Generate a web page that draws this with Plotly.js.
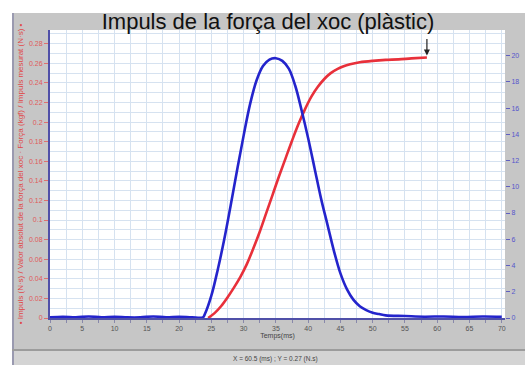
<!DOCTYPE html>
<html>
<head>
<meta charset="utf-8">
<script src="https://cdn.plot.ly/plotly-3.0.1.min.js"></script>
<style>html,body{margin:0;padding:0;background:#fff;}#chart{width:525px;height:365px;}</style>
</head>
<body>
<div id="chart"></div>
<script>
// Force of the impact (right axis)
var forceTime = [0, 2, 4, 6, 8, 10, 12, 14, 16, 18, 20, 22, 23.7, 24, 25, 26, 27, 28, 29, 30, 31, 32, 33, 34, 35, 36, 37, 38, 39, 40, 41, 42, 43, 44, 45, 46, 47, 48, 49, 50, 51, 52, 55, 58, 61, 64, 67, 70];
var forceValues = [0.05, 0.1, 0.05, 0.12, 0.05, 0.1, 0.05, 0.05, 0.12, 0.05, 0.1, 0.05, 0.05, 0.3, 1.7, 3.7, 6.0, 8.6, 11.3, 13.9, 16.3, 18.1, 19.2, 19.7, 19.8, 19.6, 19.0, 17.7, 15.8, 13.7, 11.4, 9.1, 7.1, 5.1, 3.4, 2.2, 1.4, 0.9, 0.6, 0.4, 0.3, 0.2, 0.15, 0.1, 0.12, 0.08, 0.12, 0.1];
// Impulse (left axis)
var impulseTime = [24.5, 25.5, 26.5, 27.5, 28.5, 29.5, 30.5, 31.5, 32.5, 33.5, 34.5, 35.5, 36.5, 37.5, 38.5, 39.5, 40.5, 41.5, 42.5, 43.5, 44.5, 45.5, 46.5, 48, 50, 52, 54, 56, 58.4];
var impulseValues = [0, 0.005, 0.012, 0.021, 0.031, 0.042, 0.055, 0.071, 0.088, 0.107, 0.126, 0.145, 0.163, 0.181, 0.198, 0.213, 0.226, 0.236, 0.244, 0.250, 0.254, 0.257, 0.259, 0.261, 0.2625, 0.2635, 0.264, 0.265, 0.266];

var xTickVals = [0, 5, 10, 15, 20, 25, 30, 35, 40, 45, 50, 55, 60, 65, 70];
var leftTickVals = [0, 0.02, 0.04, 0.06, 0.08, 0.1, 0.12, 0.14, 0.16, 0.18, 0.2, 0.22, 0.24, 0.26, 0.28];
var rightTickVals = [0, 2, 4, 6, 8, 10, 12, 14, 16, 18, 20];

var titleText = 'Impuls de la força del xoc (plàstic)';
var xTitle = 'Temps(ms)';
var leftTitle = '• Impuls (N·s) / Valor absolut de la força del xoc · Força (kgf) / Impuls mesurat (N·s) •';
var statusText = 'X = 60.5 (ms) ; Y = 0.27 (N.s)';

var traces = [
  {x: impulseTime, y: impulseValues, type: 'scatter', mode: 'lines', yaxis: 'y',
   line: {color: '#e8303a', width: 2.6, shape: 'spline', smoothing: 1}, hoverinfo: 'skip'},
  {x: forceTime, y: forceValues, type: 'scatter', mode: 'lines', yaxis: 'y2',
   line: {color: '#2424cc', width: 2.6, shape: 'spline', smoothing: 1}, hoverinfo: 'skip'}
];

var gridColor = '#d6e2f0';
var layout = {
  width: 525, height: 365,
  margin: {l: 50, r: 20, t: 30, b: 47, pad: 0},
  paper_bgcolor: '#c6c6c6',
  plot_bgcolor: '#ffffff',
  showlegend: false,
  font: {family: 'Liberation Sans, Arial, sans-serif'},
  title: {text: titleText, x: 268/525, xanchor: 'center', y: 1 - 21/365, yanchor: 'middle',
          font: {size: 22, color: '#111111', family: 'Liberation Sans, Arial, sans-serif'}},
  xaxis: {
    range: [0, 70.5], tickvals: xTickVals, ticks: 'outside', ticklen: 3, tickcolor: '#8888aa',
    showgrid: true, gridcolor: gridColor, gridwidth: 1,
    minor: {dtick: 2.5, showgrid: true, gridcolor: gridColor, ticks: 'outside', ticklen: 3, tickcolor: '#8888aa'},
    showline: true, linecolor: '#5050a8', linewidth: 2, zeroline: false,
    tickfont: {size: 7, color: '#555555'},
    title: {text: xTitle, font: {size: 7, color: '#444444'}, standoff: 2}
  },
  yaxis: {
    range: [0, 0.294], tickvals: leftTickVals, ticks: 'outside', ticklen: 4, tickcolor: '#e07070',
    showgrid: true, gridcolor: gridColor, gridwidth: 1,
    minor: {dtick: 0.01, showgrid: true, gridcolor: gridColor},
    showline: true, linecolor: '#5050a8', linewidth: 2, zeroline: false,
    tickfont: {size: 7, color: '#e05a5a'},
    title: {text: leftTitle, font: {size: 8, color: '#e04848'}, standoff: 4}
  },
  yaxis2: {
    range: [0, 21.95], tickvals: rightTickVals, overlaying: 'y', side: 'right',
    ticks: 'outside', ticklen: 4, tickcolor: '#6060c0', showgrid: false, zeroline: false,
    showline: false, tickfont: {size: 7, color: '#5555cc'}
  },
  shapes: [
    {type: 'rect', xref: 'paper', yref: 'paper', x0: -0.2, x1: 1.1, y0: 1 + 17/288, y1: 1.2, fillcolor: '#ffffff', line: {width: 0}, layer: 'below'},
    {type: 'rect', xref: 'paper', yref: 'paper', x0: -50/455, x1: -38/455, y0: -0.3, y1: 1.2, fillcolor: '#ffffff', line: {width: 0}, layer: 'below'},
    {type: 'rect', xref: 'paper', yref: 'paper', x0: -38/455, x1: -36/455, y0: -0.3, y1: 1 + 17/288, fillcolor: '#9a9ab0', line: {width: 0}, layer: 'below'},
    {type: 'rect', xref: 'paper', yref: 'paper', x0: -38/455, x1: 1.1, y0: -33/288, y1: -31/288, fillcolor: '#9c9c9c', line: {width: 0}, layer: 'below'},
    {type: 'rect', xref: 'paper', yref: 'paper', x0: -36/455, x1: 1.1, y0: -0.3, y1: -33/288, fillcolor: '#d4d4d4', line: {width: 0}, layer: 'below'}
  ],
  annotations: [
    {x: impulseTime[impulseTime.length - 1], y: impulseValues[impulseValues.length - 1] + 0.002, xref: 'x', yref: 'y',
     showarrow: true, ax: 0, ay: -18, arrowhead: 2, arrowsize: 1, arrowwidth: 1.2, arrowcolor: '#222222', text: ''},
    {x: (275 - 50) / 455, y: -(359 - 318) / 288, xref: 'paper', yref: 'paper', xanchor: 'center', yanchor: 'middle',
     text: statusText, showarrow: false, font: {size: 6.5, color: '#444444'}}
  ]
};

Plotly.newPlot('chart', traces, layout, {displayModeBar: false, staticPlot: true});
</script>
</body>
</html>
